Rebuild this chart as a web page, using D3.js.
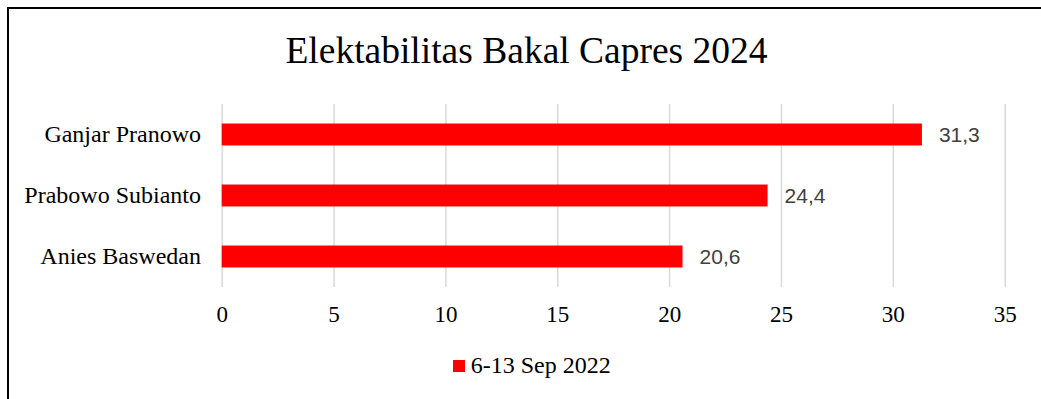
<!DOCTYPE html>
<html>
<head>
<meta charset="utf-8">
<script src="https://cdn.jsdelivr.net/npm/d3@7"></script>
<style>
  body { margin: 0; background: #fff; }
  svg { display: block; }
</style>
</head>
<body>
<div id="chart"></div>
<script>
// chart data
let categories = ["Ganjar Pranowo", "Prabowo Subianto", "Anies Baswedan"];
let values = [31.3, 24.4, 20.6];
let valueLabels = ["31,3", "24,4", "20,6"];
let xTicks = [0, 5, 10, 15, 20, 25, 30, 35];
let seriesName = "6-13 Sep 2022";
let chartTitle = "Elektabilitas Bakal Capres 2024";

// SVG area
let svgWidth = 1041;
let svgHeight = 399;

let plot = { left: 221.7, right: 1004.7, top: 104, bottom: 287 };

let svg = d3.select("#chart")
  .append("svg")
  .attr("width", svgWidth)
  .attr("height", svgHeight);

// outer frame (only top and left edges visible in the crop)
svg.append("rect")
  .attr("x", 8)
  .attr("y", 8)
  .attr("width", 1100)
  .attr("height", 500)
  .attr("fill", "#fff")
  .attr("stroke", "#000")
  .attr("stroke-width", 2);

// title
svg.append("text")
  .attr("x", 526.5)
  .attr("y", 62.7)
  .attr("text-anchor", "middle")
  .style("font-family", "'Liberation Serif', 'Times New Roman', serif")
  .style("font-size", "37.5px")
  .attr("fill", "#000")
  .text(chartTitle);

// scales
let xScale = d3.scaleLinear()
  .domain([0, 35])
  .range([plot.left, plot.right]);

let yScale = d3.scaleBand()
  .domain(categories)
  .range([plot.top, plot.bottom])
  .paddingInner(0.64)
  .paddingOuter(0.32);

// x axis with gridlines
let xAxis = d3.axisBottom(xScale)
  .tickValues(xTicks)
  .tickFormat(d3.format("d"))
  .tickSize(-(plot.bottom - plot.top))
  .tickPadding(19);

let xg = svg.append("g")
  .attr("transform", `translate(0, ${plot.bottom})`)
  .call(xAxis);

xg.select(".domain").remove();
xg.selectAll(".tick line")
  .attr("stroke", "#d9d9d9")
  .attr("stroke-width", 1.5);
xg.selectAll(".tick text")
  .style("font-family", "'Liberation Serif', 'Times New Roman', serif")
  .style("font-size", "23px")
  .attr("fill", "#000");

// y axis (category labels)
let yAxis = d3.axisLeft(yScale)
  .tickSize(0)
  .tickPadding(20.7);

let yg = svg.append("g")
  .attr("transform", `translate(${plot.left}, 0)`)
  .call(yAxis);

yg.select(".domain").remove();
yg.selectAll(".tick text")
  .style("font-family", "'Liberation Serif', 'Times New Roman', serif")
  .style("font-size", "24px")
  .attr("fill", "#000");

// bars
svg.selectAll(".bar")
  .data(categories)
  .enter()
  .append("rect")
  .attr("class", "bar")
  .attr("x", xScale(0))
  .attr("y", d => yScale(d))
  .attr("width", (d, i) => xScale(values[i]) - xScale(0))
  .attr("height", yScale.bandwidth())
  .attr("fill", "#ff0000");

// value labels
svg.selectAll(".value")
  .data(categories)
  .enter()
  .append("text")
  .attr("class", "value")
  .attr("x", (d, i) => xScale(values[i]) + 17)
  .attr("y", d => yScale(d) + yScale.bandwidth() / 2)
  .attr("dy", "0.36em")
  .style("font-family", "'Liberation Sans', Arial, sans-serif")
  .style("font-size", "21px")
  .attr("fill", "#404040")
  .text((d, i) => valueLabels[i]);

// legend
let legend = svg.append("g");
legend.append("rect")
  .attr("x", 453)
  .attr("y", 360)
  .attr("width", 12)
  .attr("height", 12)
  .attr("fill", "#ff0000");
legend.append("text")
  .attr("x", 470.7)
  .attr("y", 373)
  .style("font-family", "'Liberation Serif', 'Times New Roman', serif")
  .style("font-size", "24px")
  .attr("fill", "#000")
  .text(seriesName);
</script>
</body>
</html>
